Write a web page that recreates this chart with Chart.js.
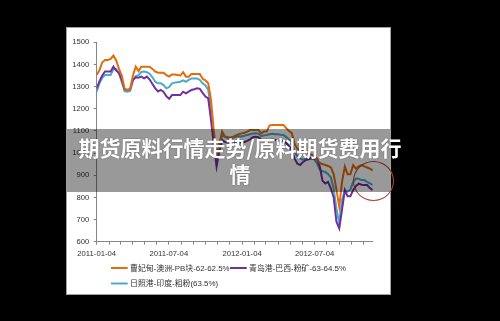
<!DOCTYPE html>
<html>
<head>
<meta charset="utf-8">
<script src="https://cdn.jsdelivr.net/npm/chart.js@4.4.0/dist/chart.umd.min.js"></script>
<style>
  html, body { margin: 0; padding: 0; background: #000; width: 500px; height: 321px; overflow: hidden; }
  #panel { position: absolute; left: 66px; top: 27px; width: 323px; height: 266px; background: #fff; border: 1px solid #a0a0a0; }
  #c { position: absolute; left: 0; top: 0; }
  #ring { position: absolute; left: 353px; top: 161px; width: 41px; height: 40px; box-sizing: border-box;
          border: 1.4px solid #b4443e; border-radius: 50%; }
  #banner { position: absolute; left: 67px; top: 129px; width: 323px; height: 63px; background: rgba(0,0,0,0.4); }
  #title { position: absolute; left: 60px; top: 134px; width: 360px; text-align: center; color: #fff;
           font: bold 21px "Noto Sans CJK SC", sans-serif; line-height: 26px; white-space: nowrap;
           text-shadow: 0 0 2px rgba(0,0,0,0.35); }
</style>
</head>
<body>
<div id="panel"></div>
<canvas id="c" width="500" height="321"></canvas>
<div id="ring"></div>
<div id="banner"></div>
<div id="title">期货原料行情走势/原料期货费用行<br>情</div>
<script>
// Weekly iron ore port prices (yuan/t), first week 2011-01-04
const startDate = '2011-01-04';

const seriesNames = [
  '曹妃甸-澳洲-PB块-62-62.5%',
  '青岛港-巴西-粉矿-63-64.5%',
  '日照港-印度-粗粉(63.5%)'
];

const caofeidianPB = [
  1352,1375,1410,1420,1420,1425,1440,1418,1380,1350,
  1290,1285,1290,1350,1390,1370,1390,1390,1390,1390,
  1380,1368,1363,1363,1363,1352,1345,1355,1355,1352,
  1350,1365,1345,1345,1357,1357,1357,1357,1335,1328,
  1315,1240,1100,990,1040,1097,1075,1072,1070,1074,
  1080,1085,1089,1092,1097,1104,1104,1104,1104,1089,
  1097,1097,1125,1127,1127,1127,1127,1127,1112,1100,
  1090,1040,1020,1014,1008,1003,998,993,986,970,
  955,950,946,942,935,905,835,758,870,939,
  905,905,946,930,940,946,940,935,930,922
];

const qingdaoBrazil = [
  1292,1325,1350,1368,1368,1368,1390,1372,1362,1330,
  1288,1285,1288,1330,1342,1340,1345,1337,1345,1332,
  1312,1292,1278,1285,1276,1256,1245,1262,1262,1262,
  1262,1277,1270,1277,1285,1288,1292,1290,1272,1255,
  1247,1150,1040,939,1010,1059,1050,1048,1045,1048,
  1052,1050,1048,1050,1055,1062,1072,1074,1072,1060,
  1059,1059,1059,1060,1059,1055,1052,1052,1045,1030,
  1010,975,952,946,960,968,972,975,976,975,
  940,875,863,870,840,800,690,660,745,833,
  805,805,833,852,862,857,856,856,842,833
];

const rizhaoIndia = [
  1277,1315,1340,1352,1352,1352,1378,1380,1358,1320,
  1280,1277,1280,1330,1347,1352,1366,1368,1365,1358,
  1342,1322,1315,1315,1307,1292,1298,1315,1318,1320,
  1322,1328,1322,1330,1337,1337,1337,1330,1315,1305,
  1285,1200,1070,965,1025,1080,1072,1068,1066,1070,
  1074,1076,1075,1078,1082,1085,1088,1090,1088,1076,
  1080,1082,1085,1087,1085,1085,1083,1082,1072,1060,
  1045,1005,985,975,970,975,980,978,972,955,
  926,918,915,905,890,840,750,685,790,830,
  826,835,870,885,884,878,878,870,863,856
];

const xTickLabels = ['2011-01-04', '2011-07-04', '2012-01-04', '2012-07-04'];
const yTicks = [600, 700, 800, 900, 1000, 1100, 1200, 1300, 1400, 1500];

const colors = ['#e46c0a', '#7030a0', '#4bacc6'];

// Day offsets from the first week, and monthly tick positions
const DAY = 86400000;
const t0 = Date.parse(startDate + 'T00:00:00Z');
const monthTicks = [];
for (let m = 0; m <= 22; m++) monthTicks.push((Date.UTC(2011, m, 4) - t0) / DAY);
const labelByDay = {};
xTickLabels.forEach(s => { labelByDay[(Date.parse(s + 'T00:00:00Z') - t0) / DAY] = s; });

const toPoints = vals => vals.map((v, i) => ({ x: i * 7, y: v }));
const lastDay = (caofeidianPB.length - 1) * 7;

Chart.defaults.font.family = '"Liberation Sans", Arial, sans-serif';
Chart.defaults.font.size = 7.7;
Chart.defaults.color = '#333';

// Two-row legend: first row holds two entries, second row starts under the first
const legendPlugin = {
  id: 'rowLegend',
  afterDraw(chart) {
    const ctx = chart.ctx;
    const slots = [[111, 268], [230, 268], [111, 283.5]];
    ctx.save();
    ctx.font = '7.9px "Liberation Sans", "Noto Sans CJK SC", sans-serif';
    ctx.textBaseline = 'middle';
    ctx.textAlign = 'left';
    chart.data.datasets.forEach((ds, i) => {
      const [x, y] = slots[i];
      ctx.strokeStyle = ds.borderColor;
      ctx.lineWidth = 2;
      ctx.beginPath();
      ctx.moveTo(x, y);
      ctx.lineTo(x + 16.7, y);
      ctx.stroke();
      ctx.fillStyle = '#333';
      ctx.fillText(ds.label, x + 19, y + 0.5);
    });
    ctx.restore();
  }
};

new Chart(document.getElementById('c'), {
  type: 'line',
  data: {
    datasets: [
      { label: seriesNames[0], data: toPoints(caofeidianPB), borderColor: colors[0] },
      { label: seriesNames[1], data: toPoints(qingdaoBrazil), borderColor: colors[1] },
      { label: seriesNames[2], data: toPoints(rizhaoIndia), borderColor: colors[2] }
    ].map(d => Object.assign(d, { borderWidth: 2, pointRadius: 0, tension: 0, fill: false }))
  },
  options: {
    responsive: false,
    animation: false,
    events: [],
    layout: { padding: { left: 0, top: 42.3, right: 127.3, bottom: 0 } },
    plugins: { legend: { display: false }, tooltip: { enabled: false } },
    scales: {
      x: {
        type: 'linear',
        min: 0,
        max: lastDay,
        afterBuildTicks: s => { s.ticks = monthTicks.map(v => ({ value: v })); },
        afterFit: s => { s.height = 79.3; },
        ticks: {
          autoSkip: false, maxRotation: 0, padding: 5,
          callback: v => labelByDay[v] || ''
        },
        grid: { drawOnChartArea: false, tickLength: 3, color: '#868686' },
        border: { color: '#868686', width: 1 }
      },
      y: {
        min: 600,
        max: 1500,
        afterBuildTicks: s => { s.ticks = yTicks.map(v => ({ value: v })); },
        afterFit: s => { s.width = 96.7; },
        ticks: { padding: 4.4, callback: v => String(v) },
        grid: { drawOnChartArea: false, tickLength: 3, color: '#868686' },
        border: { color: '#868686', width: 1 }
      }
    }
  },
  plugins: [legendPlugin]
});
</script>
</body>
</html>
